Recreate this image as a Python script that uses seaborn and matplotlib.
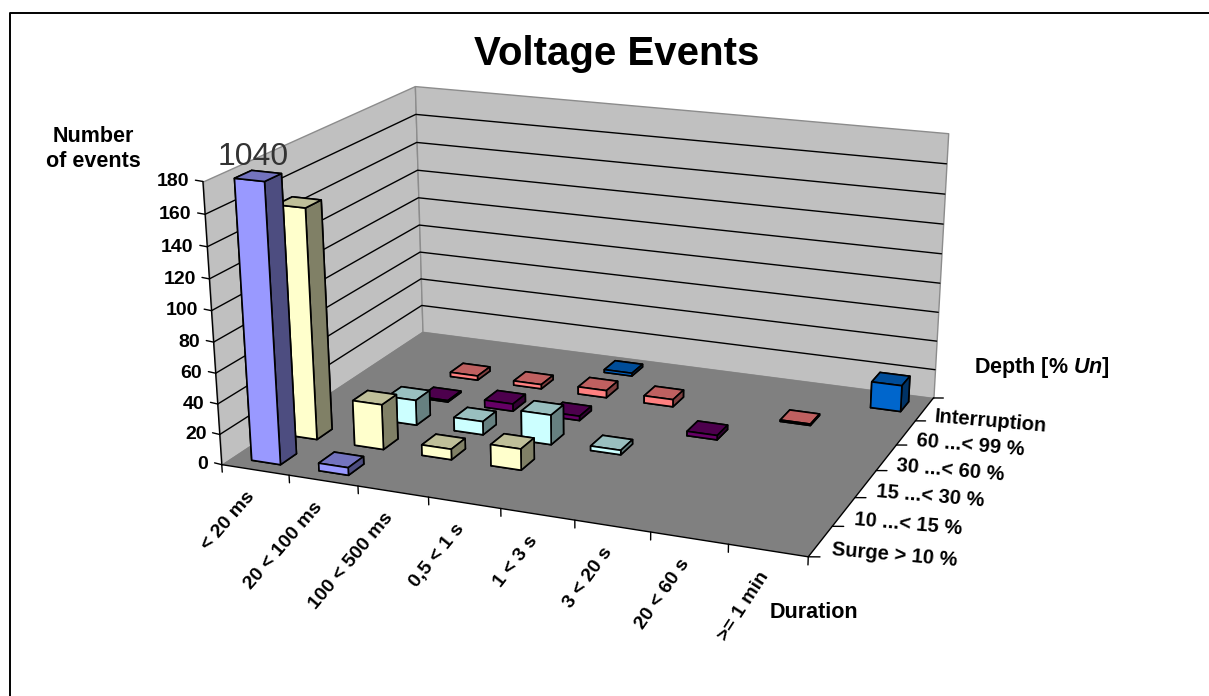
import numpy as np
import matplotlib
matplotlib.use('Agg')
import matplotlib.pyplot as plt
import seaborn as sns
from matplotlib.lines import Line2D
from mpl_toolkits.mplot3d.art3d import Poly3DCollection
from mpl_toolkits.mplot3d import proj3d

# categories
durations = ['< 20 ms', '20 < 100 ms', '100 < 500 ms', '0,5 < 1 s', '1 < 3 s', '3 < 20 s', '20 < 60 s', '>= 1 min']
depths = ['Surge > 10 %', '10 ...< 15 %', '15 ...< 30 %', '30 ...< 60 %', '60 ...< 99 %', 'Interruption']
z_ticks = [0, 20, 40, 60, 80, 100, 120, 140, 160, 180]

# number of events, one list per depth (same order as durations)
surge = [1040, 5, 0, 0, 0, 0, 0, 0]
d10_15 = [152, 30, 7, 14, 0, 0, 0, 0]
d15_30 = [0, 17, 9, 20, 3, 0, 0, 0]
d30_60 = [0, 1, 5, 3, 0, 3, 0, 0]
d60_99 = [0, 3, 3, 5, 5, 0, 1, 0]
interruption = [0, 0, 0, 2, 0, 0, 0, 18]
series = [surge, d10_15, d15_30, d30_60, d60_99, interruption]
colors = ['#9999FF', '#FFFFCC', '#CCFFFF', '#660066', '#FF8080', '#0066CC']

W, H = 1209, 696
nx, ny, zmax = len(durations), len(depths), z_ticks[-1]

sns.set_theme(style='white')
plt.rcParams['font.family'] = ['Liberation Sans', 'DejaVu Sans']
plt.rcParams['text.color'] = 'black'
plt.rcParams['mathtext.fontset'] = 'custom'
plt.rcParams['mathtext.bfit'] = 'Liberation Sans:italic:bold'
plt.rcParams['mathtext.rm'] = 'Liberation Sans:bold'
palette = sns.color_palette(colors)

# where the corners of the plot box sit in the picture (x, y, z) -> pixel
box_3d = [(0, 0, 0), (nx, 0, 0), (0, ny, 0), (nx, ny, 0), (0, 0, zmax), (0, ny, zmax), (nx, ny, zmax)]
box_px = [(221, 463), (809, 557), (423, 333), (933, 398), (203, 183), (415, 85), (948, 133)]
# the duration labels get steeper to the right
label_angles = [49, 49, 50, 51, 52, 54, 55, 57]


def fit_projection(pts3d, pts2d):
    # the camera of the old excel chart, solved from the box corners
    rows = []
    for (x, y, z), (u, v) in zip(pts3d, pts2d):
        p = [x / nx, y / ny, z / zmax, 1]
        u, v = u / 1000, (H - v) / 1000
        rows.append(p + [0, 0, 0, 0] + [-u * c for c in p])
        rows.append([0, 0, 0, 0] + p + [-v * c for c in p])
    P = np.linalg.svd(np.array(rows))[2][-1].reshape(3, 4)
    P = P @ np.diag([1 / nx, 1 / ny, 1 / zmax, 1])
    P[:2] *= 1000
    w = P[2] @ np.array([nx / 2, ny / 2, zmax / 2, 1])
    if w < 0:
        P = -P
        w = -w
    return np.vstack([P[0], P[1], P[2] - [0, 0, 0, w], P[2]])


M = fit_projection(box_3d, box_px)

fig = plt.figure(figsize=(W / 100, H / 100), dpi=100, facecolor='white')
# square axes, bigger than the figure, so 2d data units are pixels
ax = fig.add_axes([0, -(W - H) / 2 / H, 1, W / H], projection='3d')
ax.set_axis_off()
ax.set_proj_type('ortho')  # stops mplot3d clipping the lines, the matrix is ours anyway
ax.computed_zorder = False


def get_proj():
    ax.viewLim.intervalx = (0, W)
    ax.viewLim.intervaly = (-(W - H) / 2, H + (W - H) / 2)
    return M


ax.get_proj = get_proj


def px(x, y, z):
    u, v, _ = proj3d.proj_transform(x, y, z, M)
    return u, H - v


def label(u, v, s, **kw):
    return fig.text(u / W, 1 - v / H, s, **kw)


# walls and floor
wall = '#C0C0C0'
ax.add_collection3d(Poly3DCollection([[(0, 0, 0), (0, ny, 0), (0, ny, zmax), (0, 0, zmax)]],
                                     facecolor=wall, edgecolor='#8C8C8C', linewidth=1, zorder=1))
ax.add_collection3d(Poly3DCollection([[(0, ny, 0), (nx, ny, 0), (nx, ny, zmax), (0, ny, zmax)]],
                                     facecolor=wall, edgecolor='#8C8C8C', linewidth=1, zorder=1))
ax.add_collection3d(Poly3DCollection([[(0, 0, 0), (nx, 0, 0), (nx, ny, 0), (0, ny, 0)]],
                                     facecolor='#808080', edgecolor='none', zorder=2))

# gridlines on the two walls
for z in z_ticks[1:-1]:
    ax.plot([0, 0, nx], [0, ny, ny], [z, z, z], color='black', lw=1, zorder=3)

# axis lines and tick marks
ax.plot([0, 0], [0, 0], [0, zmax], color='black', lw=1, zorder=4)
ax.plot([0, nx, nx], [0, 0, ny], [0, 0, 0], color='black', lw=1, zorder=4)
for z in z_ticks:
    ax.plot([0, -0.12], [0, 0.02], [z, z], color='black', lw=1, zorder=4)
for i in range(nx + 1):
    ax.plot([i, i], [0, 0], [0, -5], color='black', lw=1, zorder=4)
for j in range(ny + 1):
    ax.plot([nx, nx + 0.13], [j, j + 0.05], [0, 0], color='black', lw=1, zorder=4)

# bars, back row first, the same way excel paints them
bar_w, bar_d = 0.43, 0.43
order = 10
for j in range(ny - 1, -1, -1):
    c = np.array(palette[j])
    faces = [c * 0.5, c * 0.75, c, c, c * 0.5, c * 0.5]
    for i, val in enumerate(series[j]):
        if val == 0:
            continue
        ax.bar3d(i + 0.5 - bar_w / 2, j + 0.5 - bar_d / 2, 0, bar_w, bar_d, min(val, zmax),
                 color=faces, edgecolor='black', linewidth=1.2, shade=False, zorder=order)
        order += 1

# texts
tick_kw = dict(fontsize=14, fontweight='bold')
for z in z_ticks:
    u, v = px(-0.2, 0, z)
    label(u, v + 2, str(z), ha='right', va='center', **tick_kw)
for i, name in enumerate(durations):
    u, v = px(i + 0.5, 0, 0)
    label(u - 10, v + 18, name, rotation=label_angles[i], ha='right', va='top', rotation_mode='anchor', **tick_kw)
for j, name in enumerate(depths):
    u, v = px(nx + 0.16, j + 0.42, 0)
    label(u, v + 4, name, rotation=-5, ha='left', va='center', rotation_mode='anchor', fontsize=14.5, fontweight='bold')

label(253, 157, str(surge[0]), fontsize=23, ha='center', va='center', color='#333333')

label(617, 54, 'Voltage Events', fontsize=29, fontweight='bold', ha='center', va='center')
label(93, 149, 'Number\nof events', fontsize=15.5, fontweight='bold', ha='center', va='center', linespacing=1.25)
label(1042, 368, r'Depth [% $\mathbfit{Un}$]', fontsize=15.5, fontweight='bold', ha='center', va='center')
label(814, 613, 'Duration', fontsize=15.5, fontweight='bold', ha='center', va='center')

# chart frame, only the top and left edges are inside the picture
fig.add_artist(Line2D([9.5 / W, 9.5 / W, 1], [0, 1 - 12.5 / H, 1 - 12.5 / H], color='black', lw=1.4))

fig.savefig('out.png', dpi=100)
